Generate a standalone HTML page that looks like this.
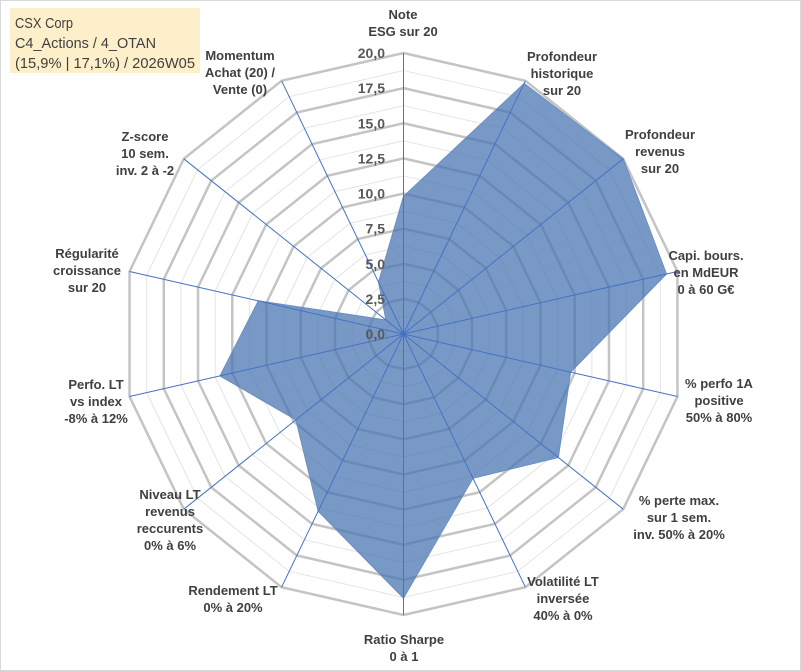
<!DOCTYPE html>
<html><head><meta charset="utf-8"><style>
body{margin:0;background:#fff;}
svg{display:block;font-family:"Liberation Sans",sans-serif;}
</style></head><body>
<svg width="801" height="671">
<rect x="0.5" y="0.5" width="800" height="670" fill="#fff" stroke="#d9d9d9"/>
<g id="grid"></g><g id="series"></g><g id="ticks"></g><g id="labels"></g>
<rect x="10" y="8" width="190" height="65" fill="#fdefc9"/>
<g font-size="15" fill="#404040">
<text x="15" y="28" textLength="58" lengthAdjust="spacingAndGlyphs">CSX Corp</text>
<text x="15" y="48" textLength="141" lengthAdjust="spacingAndGlyphs">C4_Actions / 4_OTAN</text>
<text x="15" y="68" textLength="180" lengthAdjust="spacingAndGlyphs">(15,9% | 17,1%) / 2026W05</text>
</g>
</svg>
<script>
const categories=["Note|ESG sur 20","Profondeur|historique|sur 20","Profondeur|revenus|sur 20","Capi. bours.|en MdEUR|0 à 60 G€","% perfo 1A|positive|50% à 80%","% perte max.|sur 1 sem.|inv. 50% à 20%","Volatilité LT|inversée|40% à 0%","Ratio Sharpe|0 à 1","Rendement LT|0% à 20%","Niveau LT|revenus|reccurents|0% à 6%","Perfo. LT|vs index|-8% à 12%","Régularité|croissance|sur 20","Z-score|10 sem.|inv. 2 à -2","Momentum|Achat (20) /|Vente (0)"];
const values=[9.8,19.8,20,19.2,12.2,14.1,11.4,18.8,14,9.8,13.4,10.6,1.6,4.1];
const tickLabels=["0,0","2,5","5,0","7,5","10,0","12,5","15,0","17,5","20,0"];
const tickValues=[0,2.5,5,7.5,10,12.5,15,17.5,20];
const labelPos=[[403,14],[562,56],[660,134],[706,255],[719,383],[679,500],[563,581],[404,639],[233,590],[170,494],[96,384],[87,253],[145,136],[240,55]];
const cx=403.5,cy=334,R=281,maxV=20,N=categories.length;
const NS="http://www.w3.org/2000/svg";
function rad(v){return v/maxV*R;}
function pt(i,v){const a=i*2*Math.PI/N;return [cx+rad(v)*Math.sin(a),cy-rad(v)*Math.cos(a)];}
function mk(t,attrs,parent){const e=document.createElementNS(NS,t);for(const k in attrs)e.setAttribute(k,attrs[k]);parent.appendChild(e);return e;}
const grid=document.getElementById('grid');
for(let k=1;k<=16;k++){const v=k*1.25;const major=k%2==0;
 const pts=[];for(let i=0;i<N;i++)pts.push(pt(i,v).join(','));
 const p=mk('polygon',{points:pts.join(' '),fill:'none',stroke:major?'#c4c4c4':'#e4e4e4','stroke-width':major?2.5:1},grid);
 
 }
const ser=document.getElementById('series');
const poly=mk('polygon',{points:values.map((v,i)=>pt(i,v).join(',')).join(' '),fill:'rgba(68,114,176,0.72)',stroke:'#6a8fc0','stroke-width':1},ser);


for(let i=0;i<N;i++){const [x,y]=pt(i,maxV);
 const l=mk('line',{x1:cx,y1:cy,x2:x,y2:y,stroke:'#4472c4','stroke-width':1},ser);
 
 }
const tk=document.getElementById('ticks');
tickValues.forEach((v,i)=>{const t=mk('text',{x:385,y:cy-rad(v)+5,'text-anchor':'end','font-size':14,'font-weight':'bold',fill:'#595959'},tk);t.textContent=tickLabels[i];
 
 });
const lb=document.getElementById('labels');
categories.forEach((c,i)=>{const g=mk('text',{'text-anchor':'middle','font-size':13,'font-weight':'bold',fill:'#404040'},lb);
 
 
 c.split('|').forEach((s,j)=>{const ts=mk('tspan',{x:labelPos[i][0],y:labelPos[i][1]+5+j*17},g);ts.textContent=s;});});
</script>
</body></html>
